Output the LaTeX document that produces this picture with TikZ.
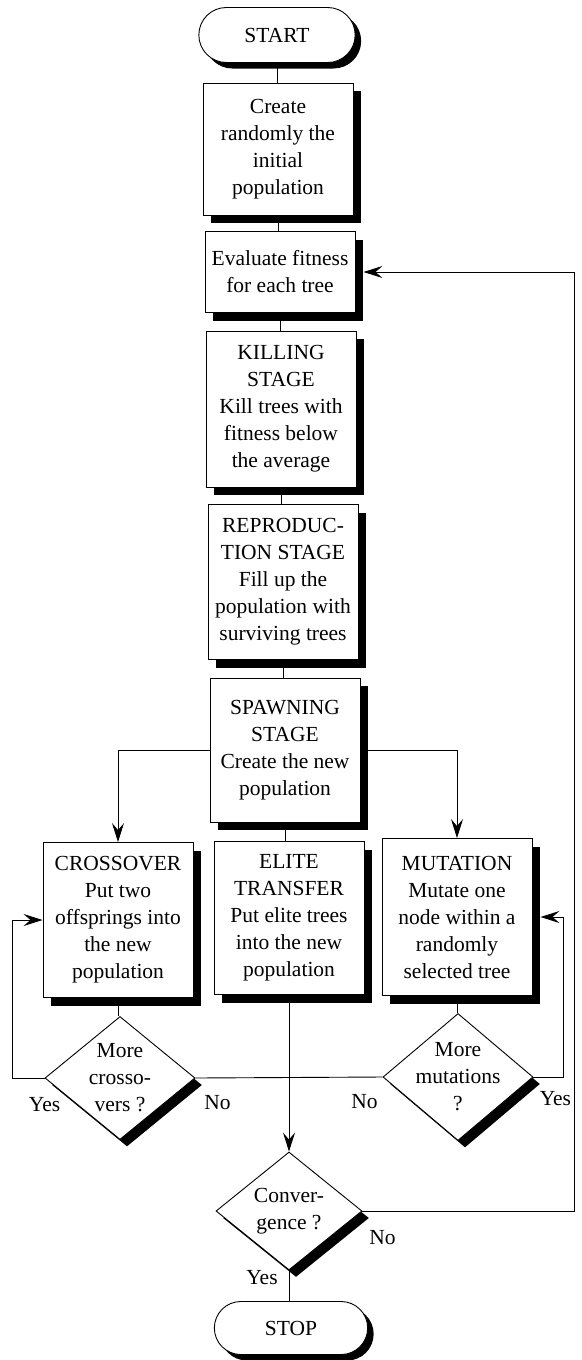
\documentclass[tikz,border=0pt]{standalone}
\usepackage{fontspec}
\setmainfont{Liberation Serif}
\usetikzlibrary{arrows.meta, shapes.geometric, shapes.misc, shadows}

\begin{document}
\begin{tikzpicture}[x=1pt, y=-1pt, font=\fontsize{21.5}{27}\selectfont,
  box/.style={draw, fill=white, line width=0.9pt, align=center, minimum width=150pt, inner sep=2pt, drop shadow={shadow xshift=8pt, shadow yshift=-8pt, fill=black, opacity=1}},
  term/.style={rounded rectangle, draw, fill=white, line width=0.9pt, drop shadow={shadow xshift=6pt, shadow yshift=-6pt, fill=black, opacity=1}},
  decision/.style={diamond, draw, fill=white, line width=0.9pt, inner sep=0pt, minimum width=150pt, minimum height=123pt, drop shadow={shadow xshift=7pt, shadow yshift=-7pt, fill=black, opacity=1}},
  dtext/.style={align=center, inner sep=0pt},
  lbl/.style={inner sep=0pt},
  link/.style={line width=0.9pt},
  arr/.style={link, -{Stealth[length=19pt, width=12pt, inset=7pt]}}]
\useasboundingbox (0,0) rectangle (581,1360);
% main column
\node[term, minimum width=163pt, minimum height=55pt] (start) at (277,35) {START};
\node[box, minimum height=132pt] (create) at (278,149) {Create\\randomly the\\initial\\population};
\node[box, minimum height=81pt] (eval) at (280,272) {Evaluate fitness\\for each tree};
\node[box, minimum height=156pt] (kill) at (281,409) {KILLING\\STAGE\\Kill trees with\\fitness below\\the average};
\node[box, minimum height=155pt] (repro) at (283,582) {REPRODUC-\\TION STAGE\\Fill up the\\population with\\surviving trees};
\node[box, minimum height=144pt] (spawn) at (285,750) {SPAWNING\\STAGE\\Create the new\\population};
% three branches
\node[box, minimum height=155pt] (cross) at (118,920) {CROSSOVER\\Put two\\offsprings into\\the new\\population};
\node[box, minimum height=153pt] (elite) at (289,918) {ELITE\\TRANSFER\\Put elite trees\\into the new\\population};
\node[box, minimum height=157pt] (mut) at (457,917) {MUTATION\\Mutate one\\node within a\\randomly\\selected tree};
% decisions
\node[decision] (xq) at (120,1078) {};
\node[dtext] (xqt) at (xq) {More\\crosso-\\vers ?};
\node[decision, minimum height=127pt] (mq) at (458,1077) {};
\node[dtext] (mqt) at (mq) {More\\mutations\\?};
\node[decision, minimum width=146pt, minimum height=118pt] (conv) at (289,1211) {};
\node[dtext] (convt) at (conv) {Conver-\\gence ?};
\node[term, minimum width=160pt, minimum height=53pt] (stop) at (291,1328) {STOP};
% connectors
\foreach \a/\b in {start/create, create/eval, eval/kill, kill/repro, repro/spawn, spawn/elite, cross/xq, mut/mq, conv/stop}
  \draw[link] (\a.south) -- (\a.south |- \b.north);
\draw[arr] (spawn.west) -| (cross.north);
\draw[arr] (spawn.east) -| (mut.north);
\draw[link] (xq.east) -- (mq.west);
\draw[arr] (elite.south) -- (conv.north);
\draw[arr] (xq.west) -- ++(-32,0) |- (cross.west);
\draw[arr] (mq.east) -- ++(30,0) |- ([xshift=8pt]mut.east);
\draw[arr] (conv.east) -- ++(212,0) |- ([xshift=8pt]eval.east);
% answers
\node[lbl] (xyes) at ([shift={(0,27)}]xq.west) {Yes};
\node[lbl] (xno) at ([shift={(22,25)}]xq.east) {No};
\node[lbl] (mno) at ([shift={(-18,25)}]mq.west) {No};
\node[lbl] (myes) at ([shift={(22,22)}]mq.east) {Yes};
\node[lbl] (cno) at ([shift={(20,27)}]conv.east) {No};
\node[lbl] (cyes) at ([shift={(-27,7)}]conv.south) {Yes};
\end{tikzpicture}
\end{document}
